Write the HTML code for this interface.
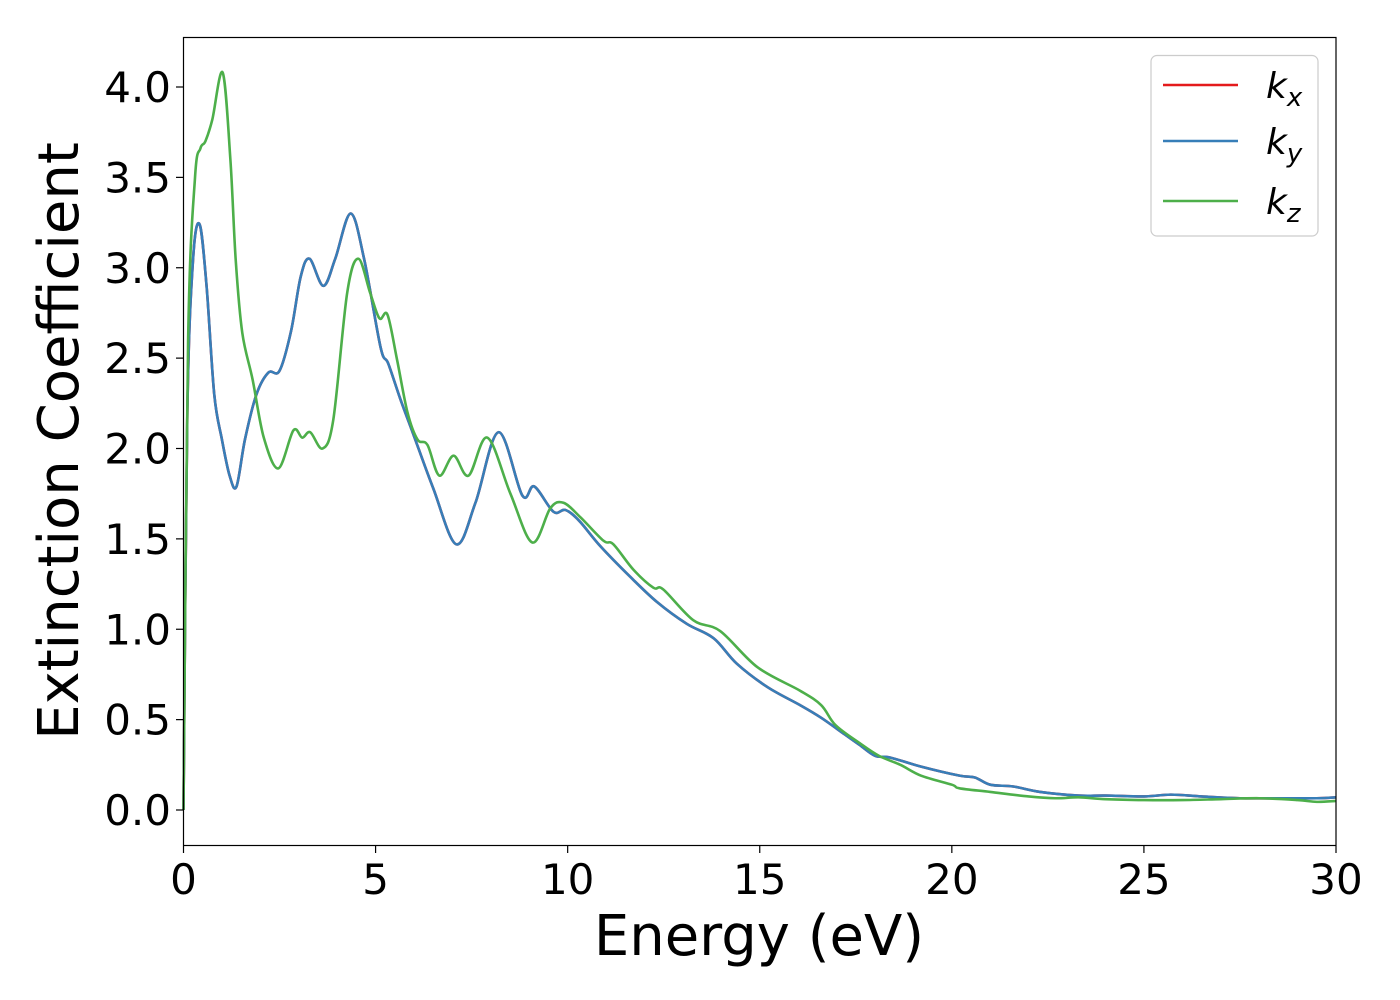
<!DOCTYPE html>
<html><head><meta charset="utf-8"><style>
body{margin:0;background:#fff}
svg{display:block}
text{font-family:"DejaVu Sans","Liberation Sans",sans-serif;fill:#000}
</style></head><body>
<svg id="chart" width="1400" height="1000" viewBox="0 0 1400 1000">
<rect x="0" y="0" width="1400" height="1000" fill="#fff"/>
<g id="series"></g>
<rect x="183.5" y="37.5" width="1152.5" height="808" fill="none" stroke="#000" stroke-width="1.2"/>
<g id="xticks"></g>
<g id="yticks"></g>
<text x="759" y="955" font-size="56" text-anchor="middle">Energy (eV)</text>
<text transform="translate(78,441) rotate(-90)" font-size="56" text-anchor="middle">Extinction Coefficient</text>
<g>
<rect x="1151" y="55.5" width="167" height="180.5" rx="6" fill="#fff" stroke="#ccc" stroke-width="1.2"/>
<line x1="1163" y1="85" x2="1238" y2="85" stroke="#e41a1c" stroke-width="2.5"/>
<line x1="1163" y1="141" x2="1238" y2="141" stroke="#377eb8" stroke-width="2.5"/>
<line x1="1163" y1="201" x2="1238" y2="201" stroke="#4daf4a" stroke-width="2.5"/>
<text x="1266" y="98" font-size="36" font-style="italic">k<tspan font-size="26" dy="8">x</tspan></text>
<text x="1266" y="154" font-size="36" font-style="italic">k<tspan font-size="26" dy="8">y</tspan></text>
<text x="1266" y="214" font-size="36" font-style="italic">k<tspan font-size="26" dy="8">z</tspan></text>
</g>
</svg>
<script>
const xTicks=[0,5,10,15,20,25,30];
const yTicks=[0,0.5,1,1.5,2,2.5,3,3.5,4];
const yTickLabels=["0.0","0.5","1.0","1.5","2.0","2.5","3.0","3.5","4.0"];
const energyXY=[0,0.1,0.25,0.42,0.6,0.8,1.0,1.2,1.38,1.6,1.9,2.21,2.5,2.8,3.05,3.28,3.64,3.95,4.35,4.7,5.13,5.33,5.65,5.98,6.5,7.1,7.6,8.2,8.82,9.13,9.63,9.94,10.3,10.85,11.63,12.33,13.1,13.8,14.4,15.2,16.05,16.6,17.2,17.6,18.0,18.4,19.2,20.2,20.6,21,21.6,22.3,23.3,24,25,25.7,26.5,27.5,28.5,29.5,30];
const kxValues=[0,2.2,3.05,3.24,2.9,2.3,2.05,1.85,1.79,2.05,2.3,2.42,2.43,2.65,2.95,3.05,2.9,3.05,3.30,3.05,2.56,2.47,2.27,2.08,1.78,1.47,1.7,2.09,1.74,1.79,1.65,1.66,1.6,1.46,1.29,1.15,1.03,0.95,0.81,0.68,0.58,0.51,0.42,0.36,0.30,0.29,0.24,0.19,0.18,0.14,0.13,0.10,0.08,0.08,0.075,0.085,0.075,0.065,0.065,0.065,0.07];
const kyValues=kxValues.slice();
const energyZ=[0,0.12,0.3,0.44,0.57,0.75,1.02,1.22,1.36,1.53,1.8,2.09,2.47,2.86,3.09,3.3,3.62,3.9,4.26,4.55,4.86,5.1,5.31,5.56,5.83,6.09,6.35,6.66,7.03,7.42,7.91,8.51,9.08,9.55,9.89,10.33,10.93,11.19,11.71,12.23,12.49,13.27,13.97,14.94,16.05,16.6,16.97,17.6,18.1,18.66,19.2,20.0,20.2,21,22,22.7,23.3,24,25,26,27,28,29,29.5,30];
const kzValues=[0,2.6,3.5,3.66,3.70,3.82,4.08,3.6,3.04,2.64,2.38,2.06,1.89,2.10,2.06,2.09,2.0,2.16,2.86,3.05,2.86,2.72,2.74,2.49,2.2,2.05,2.02,1.85,1.96,1.85,2.06,1.75,1.48,1.67,1.70,1.62,1.49,1.47,1.33,1.23,1.22,1.05,0.99,0.79,0.66,0.58,0.47,0.37,0.30,0.25,0.19,0.14,0.12,0.10,0.075,0.065,0.07,0.06,0.055,0.055,0.06,0.065,0.055,0.045,0.05];
const NS="http://www.w3.org/2000/svg";
const X=v=>183.5+v*(1336-183.5)/30;
const Y=v=>810-v*180.75;
function pathD(xs,ys){
  const p=xs.map((x,i)=>[X(x),Y(ys[i])]);
  let d="M"+p[0][0]+","+p[0][1];
  for(let i=0;i<p.length-1;i++){
    const p0=p[i-1]||p[i],p1=p[i],p2=p[i+1],p3=p[i+2]||p2;
    const c1=[p1[0]+(p2[0]-p0[0])/6,p1[1]+(p2[1]-p0[1])/6];
    const c2=[p2[0]-(p3[0]-p1[0])/6,p2[1]-(p3[1]-p1[1])/6];
    d+=" C"+c1+" "+c2+" "+p2;
  }
  return d;
}
const g=document.getElementById("series");
function addLine(xs,ys,color,name){
  const el=document.createElementNS(NS,"path");
  el.setAttribute("d",pathD(xs,ys));
  el.setAttribute("fill","none");
  el.setAttribute("stroke",color);
  el.setAttribute("stroke-width","2.6");
  
  
  g.appendChild(el);
}
addLine(energyXY,kxValues,"#e41a1c","line-kx");
addLine(energyXY,kyValues,"#377eb8","line-ky");
addLine(energyZ,kzValues,"#4daf4a","line-kz");
const xg=document.getElementById("xticks");
xTicks.forEach(t=>{
  const l=document.createElementNS(NS,"line");
  l.setAttribute("x1",X(t));l.setAttribute("x2",X(t));
  l.setAttribute("y1",846);l.setAttribute("y2",853);
  l.setAttribute("stroke","#000");l.setAttribute("stroke-width","1.2");
  
  
  xg.appendChild(l);
  const tx=document.createElementNS(NS,"text");
  tx.setAttribute("x",X(t));tx.setAttribute("y",894);
  tx.setAttribute("font-size","42");tx.setAttribute("text-anchor","middle");
  tx.textContent=String(t);
  
  
  xg.appendChild(tx);
});
const yg=document.getElementById("yticks");
yTicks.forEach((t,i)=>{
  const l=document.createElementNS(NS,"line");
  l.setAttribute("x1",176);l.setAttribute("x2",183.5);
  l.setAttribute("y1",Y(t));l.setAttribute("y2",Y(t));
  l.setAttribute("stroke","#000");l.setAttribute("stroke-width","1.2");
  
  
  yg.appendChild(l);
  const tx=document.createElementNS(NS,"text");
  tx.setAttribute("x",171);tx.setAttribute("y",Y(t)+15);
  tx.setAttribute("font-size","42");tx.setAttribute("text-anchor","end");
  tx.textContent=yTickLabels[i];
  
  
  yg.appendChild(tx);
});
</script>
</body></html>
